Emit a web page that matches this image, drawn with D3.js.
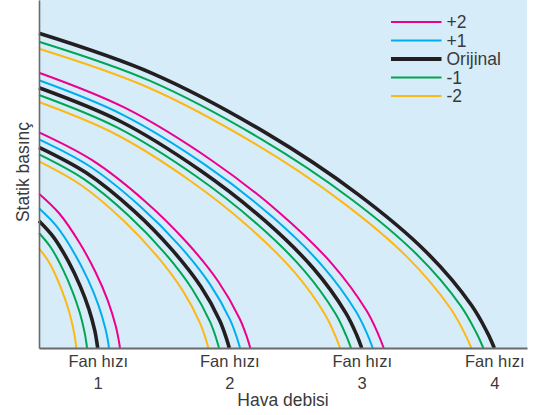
<!DOCTYPE html>
<html>
<head>
<meta charset="utf-8">
<script src="https://cdn.jsdelivr.net/npm/d3@7"></script>
<style>
  html, body { margin: 0; padding: 0; background: #ffffff; }
  text { font-family: "Liberation Sans", Arial, Helvetica, sans-serif; fill: #3a3a3a; }
</style>
</head>
<body>
<script>
// ---- data (flow, static pressure) in arbitrary units ----
const fanTickLabels = ["1", "2", "3", "4"];
const fanTickValues = [58.7, 190.3, 322.7, 455.3]; // free-delivery flow of the original curves
const legendLabels = ["+2", "+1", "Orijinal", "-1", "-2"];
const legendColors = ["#ec008c", "#00aeef", "#231f20", "#00a651", "#fdb913"];

// Fan speed 1
const s1_p2 = [[0,154.3],[20.3,134.5],[40.5,105.2],[56.7,75.5],[68.9,47.2],[77.0,21.0],[79.8,7.4],[81,0]];
const s1_p1 = [[0,139.7],[17.5,121.8],[35,95.3],[49,68.3],[59.5,42.7],[66.5,19.0],[69.0,6.7],[70,0]];
const s1_o  = [[0,127],[14.7,110.7],[29.4,86.6],[41.1,62.1],[49.9,38.9],[55.8,17.3],[57.8,6.1],[58.7,0]];
const s1_m1 = [[0,115],[12,100.3],[24,78.4],[33.6,56.2],[40.8,35.2],[45.6,15.6],[47.3,5.5],[48,0]];
const s1_m2 = [[0,99.7],[9.3,86.9],[18.7,68.0],[26.1,48.8],[31.7,30.5],[35.4,13.6],[36.7,4.8],[37.3,0]];
// Fan speed 2
const s2_p2 = [[0,215.7],[52.8,188.1],[105.7,147.1],[147.9,105.5],[179.6,66.0],[200.7,29.3],[208.1,10.4],[211.3,0]];
const s2_p1 = [[0,208.7],[50.3,182.0],[100.5,142.3],[140.7,102.1],[170.9,63.9],[191.0,28.4],[198.0,10.0],[201,0]];
const s2_o  = [[0,200.7],[47.6,175.0],[95.2,136.9],[133.2,98.1],[161.8,61.4],[180.8,27.3],[187.4,9.6],[190.3,0]];
const s2_m1 = [[0,193.7],[45,168.9],[90,132.1],[126,94.7],[153,59.3],[171,26.3],[177.3,9.3],[180,0]];
const s2_m2 = [[0,186.7],[42.3,162.8],[84.7,127.3],[118.5,91.3],[143.9,57.1],[160.8,25.4],[166.8,9.0],[169.3,0]];
// Fan speed 3
const s3_p2 = [[0,275.3],[86.2,240.1],[172.4,187.8],[241.3,134.6],[293.0,84.2],[327.5,37.4],[339.5,13.2],[344.7,0]];
const s3_p1 = [[0,267.7],[83.4,233.4],[166.9,182.6],[233.6,130.9],[283.6,81.9],[317.0,36.4],[328.7,12.8],[333.7,0]];
const s3_o  = [[0,260.3],[80.7,227.0],[161.4,177.5],[225.9,127.3],[274.3,79.7],[306.6,35.4],[317.9,12.5],[322.7,0]];
const s3_m1 = [[0,253],[78,220.6],[156,172.5],[218.4,123.7],[265.2,77.4],[296.4,34.4],[307.3,12.1],[312,0]];
const s3_m2 = [[0,246],[75.3,214.5],[150.5,167.8],[210.7,120.3],[255.9,75.3],[286.0,33.5],[296.5,11.8],[301,0]];
// Fan speed 4 (only original, -1, -2 visible)
const s4_o  = [[0,314.7],[113.8,274.4],[227.7,214.6],[318.7,153.9],[387,96.3],[432.5,42.8],[448.5,15.1],[455.3,0]];
const s4_m1 = [[0,306.3],[111.1,267.1],[222.2,208.9],[311.0,149.8],[377.7,93.7],[422.1,41.7],[437.6,14.7],[444.3,0]];
const s4_m2 = [[0,299.3],[108.1,261.0],[216.2,204.1],[302.6,146.4],[367.5,91.6],[410.7,40.7],[425.8,14.4],[432.3,0]];

const curves = [
  {pts: s1_p2, k: 0}, {pts: s1_p1, k: 1}, {pts: s1_m1, k: 3}, {pts: s1_m2, k: 4}, {pts: s1_o, k: 2},
  {pts: s2_p2, k: 0}, {pts: s2_p1, k: 1}, {pts: s2_m1, k: 3}, {pts: s2_m2, k: 4}, {pts: s2_o, k: 2},
  {pts: s3_p2, k: 0}, {pts: s3_p1, k: 1}, {pts: s3_m1, k: 3}, {pts: s3_m2, k: 4}, {pts: s3_o, k: 2},
  {pts: s4_m1, k: 3}, {pts: s4_m2, k: 4}, {pts: s4_o, k: 2}
];

// ---- drawing ----
const W = 539, H = 415;
const svg = d3.select("body").append("svg").attr("width", W).attr("height", H);

const x = d3.scaleLinear().domain([0, 488]).range([39, 527]);
const y = d3.scaleLinear().domain([0, 348]).range([348, 0]);

svg.append("rect")
  .attr("x", x(0)).attr("y", y(348))
  .attr("width", x(488) - x(0)).attr("height", y(0) - y(348))
  .attr("fill", "#d6ecf9");

const line = d3.line()
  .x(d => x(d[0])).y(d => y(d[1]))
  .curve(d3.curveCatmullRom.alpha(0.5));

const plot = svg.append("g");
plot.selectAll("path.curve")
  .data(curves)
  .join("path")
  .attr("class", "curve")
  .attr("d", d => line(d.pts))
  .attr("fill", "none")
  .attr("stroke", d => legendColors[d.k])
  .attr("stroke-width", d => d.k === 2 ? 3.6 : 2)
  .attr("stroke-linecap", "butt");

// axes
const gx = svg.append("g").attr("transform", `translate(0,${y(0)})`)
  .call(d3.axisBottom(x).tickValues(fanTickValues).tickSize(0).tickSizeOuter(0).tickFormat(""));
gx.select(".domain").attr("stroke", "#6a6a6a").attr("stroke-width", 2);
gx.selectAll(".tick text").remove();
gx.selectAll(".tick").each(function(d, i) {
  const t = d3.select(this).append("text")
    .attr("text-anchor", "middle")
    .attr("font-size", 16.5)
    .style("fill", "#3a3a3a");
  t.append("tspan").attr("x", 0).attr("y", 18.5).text("Fan hızı");
  t.append("tspan").attr("x", 0).attr("y", 41.3).text(fanTickLabels[i]);
});

const gy = svg.append("g").attr("transform", `translate(${x(0)},0)`)
  .call(d3.axisLeft(y).tickValues([]).tickSize(0).tickSizeOuter(0));
gy.select(".domain").attr("stroke", "#6a6a6a").attr("stroke-width", 1.6);

// axis titles
svg.append("text")
  .attr("x", 283).attr("y", 406)
  .attr("text-anchor", "middle")
  .attr("font-size", 17.5)
  .text("Hava debisi");

svg.append("text")
  .attr("transform", "translate(29,172) rotate(-90)")
  .attr("text-anchor", "middle")
  .attr("font-size", 17.5)
  .text("Statik basınç");

// legend
const lg = svg.append("g").attr("transform", "translate(391,22)");
const rows = lg.selectAll("g").data(legendLabels).join("g")
  .attr("transform", (d, i) => `translate(0,${i * 18.5})`);
rows.append("line")
  .attr("x1", 0).attr("x2", 50.5).attr("y1", 0).attr("y2", 0)
  .attr("stroke", (d, i) => legendColors[i])
  .attr("stroke-width", (d, i) => i === 2 ? 3.8 : 2);
rows.append("text")
  .attr("x", 55.5).attr("y", 6.2)
  .attr("font-size", 17.5)
  .text(d => d);
</script>
</body>
</html>
